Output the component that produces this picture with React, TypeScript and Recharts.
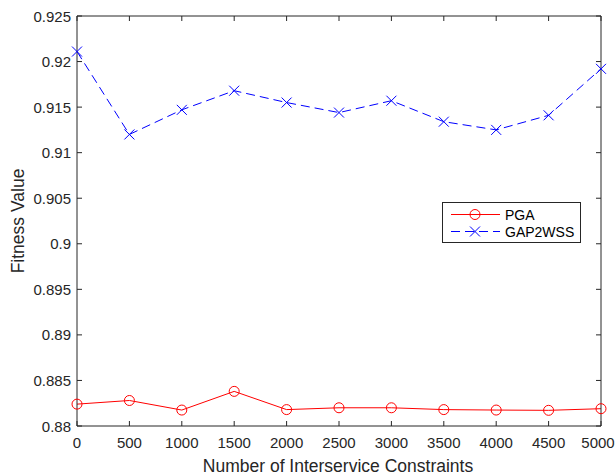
import { LineChart, Line, XAxis, YAxis } from "recharts";

// ── Data ───────────────────────────────────────────────────────────────────
const constraints = [0, 500, 1000, 1500, 2000, 2500, 3000, 3500, 4000, 4500, 5000];
const pgaValues = [0.8824, 0.8828, 0.88175, 0.8838, 0.8818, 0.882, 0.882, 0.8818, 0.88175, 0.88172, 0.8819];
const gap2wssValues = [0.9211, 0.912, 0.9147, 0.9168, 0.9155, 0.9144, 0.9157, 0.9134, 0.9125, 0.9141, 0.9192];
const xTicks = [0, 500, 1000, 1500, 2000, 2500, 3000, 3500, 4000, 4500, 5000];
const yTicks = [0.88, 0.885, 0.89, 0.895, 0.9, 0.905, 0.91, 0.915, 0.92, 0.925];

const data = constraints.map((n, i) => ({ n, pga: pgaValues[i], gap: gap2wssValues[i] }));

const INK = "#262626";
const FONT = "'Liberation Sans', Arial, sans-serif";
const TICK_LEN = 5;

const fmtY = (v: number) => String(Number(v.toFixed(3)));

// ── Tick renderers (MATLAB style: ticks point inward) ──────────────────────
const BottomTick = ({ x, y, payload }: any) => {
  // keep the last label inside the 616px canvas
  const tx = Math.min(x, 598);
  return (
    <g>
      <line x1={x} y1={y} x2={x} y2={y - TICK_LEN} stroke={INK} strokeWidth={1} />
      <text x={tx} y={y + 21.5} textAnchor="middle" fill={INK} fontSize={15} fontFamily={FONT}>
        {payload.value}
      </text>
    </g>
  );
};
const TopTick = ({ x, y }: any) => (
  <line x1={x} y1={y} x2={x} y2={y + TICK_LEN} stroke={INK} strokeWidth={1} />
);
const LeftTick = ({ x, y, payload }: any) => (
  <g>
    <line x1={x} y1={y} x2={x + TICK_LEN} y2={y} stroke={INK} strokeWidth={1} />
    <text x={x - 6} y={y + 5.5} textAnchor="end" fill={INK} fontSize={15} fontFamily={FONT}>
      {fmtY(payload.value)}
    </text>
  </g>
);
const RightTick = ({ x, y }: any) => (
  <line x1={x} y1={y} x2={x - TICK_LEN} y2={y} stroke={INK} strokeWidth={1} />
);

// ── Axis titles ────────────────────────────────────────────────────────────
const XTitle = ({ viewBox }: any) => (
  <text x={viewBox.x + viewBox.width / 2 - 1} y={viewBox.y + 45.5} textAnchor="middle"
    fill={INK} fontSize={17.5} fontFamily={FONT}>
    Number of Interservice Constraints
  </text>
);
const YTitle = ({ viewBox }: any) => {
  const cx = 24;
  const cy = viewBox.y + viewBox.height / 2;
  return (
    <text x={cx} y={cy} textAnchor="middle" transform={`rotate(-90, ${cx}, ${cy})`}
      fill={INK} fontSize={17.5} fontFamily={FONT}>
      Fitness Value
    </text>
  );
};

// ── Markers ────────────────────────────────────────────────────────────────
const CircleDot = (props: any) => {
  const { cx, cy, index } = props;
  return <circle key={`c-${index}`} cx={cx} cy={cy} r={5} fill="none" stroke="#ff0000" strokeWidth={1} />;
};
const CrossDot = (props: any) => {
  const { cx, cy, index } = props;
  const s = 5;
  return (
    <g key={`x-${index}`}>
      <line x1={cx - s} y1={cy - s} x2={cx + s} y2={cy + s} stroke="#0000ff" strokeWidth={1} />
      <line x1={cx - s} y1={cy + s} x2={cx + s} y2={cy - s} stroke="#0000ff" strokeWidth={1} />
    </g>
  );
};

const LegendBox = () => (
  <svg width={139} height={41} style={{ display: "block" }}>
    <rect x={0.5} y={0.5} width={138} height={40} fill="#fff" stroke={INK} strokeWidth={1} />
    <line x1={9} y1={12.5} x2={58} y2={12.5} stroke="#ff0000" strokeWidth={1} />
    <circle cx={33} cy={12.5} r={5} fill="none" stroke="#ff0000" strokeWidth={1} />
    <text x={63} y={17.5} fill="#000" fontSize={14} fontFamily={FONT}>PGA</text>
    <line x1={9} y1={29.5} x2={58} y2={29.5} stroke="#0000ff" strokeWidth={1} strokeDasharray="9 5" />
    <line x1={28} y1={24.5} x2={38} y2={34.5} stroke="#0000ff" strokeWidth={1} />
    <line x1={28} y1={34.5} x2={38} y2={24.5} stroke="#0000ff" strokeWidth={1} />
    <text x={63} y={34.5} fill="#000" fontSize={14} fontFamily={FONT}>GAP2WSS</text>
  </svg>
);

export default function App() {
  return (
    <div style={{ position: "absolute", left: 0, top: 0, width: 616, height: 475, background: "#fff" }}>
      <LineChart width={616} height={475} data={data} margin={{ top: 15, right: 14, bottom: 0, left: 0 }}>
        <XAxis
          xAxisId="bottom"
          dataKey="n"
          type="number"
          domain={[0, 5000]}
          ticks={xTicks}
          height={49}
          tickSize={0}
          tickMargin={0}
          tickLine={false}
          axisLine={{ stroke: INK }}
          tick={<BottomTick />}
          interval={0}
          label={<XTitle />}
        />
        <XAxis
          xAxisId="top"
          orientation="top"
          dataKey="n"
          type="number"
          domain={[0, 5000]}
          ticks={xTicks}
          height={1}
          tickSize={0}
          tickMargin={0}
          tickLine={false}
          axisLine={{ stroke: INK }}
          tick={<TopTick />}
          interval={0}
        />
        <YAxis
          yAxisId="left"
          type="number"
          domain={[0.88, 0.925]}
          ticks={yTicks}
          width={77}
          tickSize={0}
          tickMargin={0}
          tickLine={false}
          axisLine={{ stroke: INK }}
          tick={<LeftTick />}
          interval={0}
          allowDataOverflow
          label={<YTitle />}
        />
        <YAxis
          yAxisId="right"
          orientation="right"
          type="number"
          domain={[0.88, 0.925]}
          ticks={yTicks}
          width={1}
          tickSize={0}
          tickMargin={0}
          tickLine={false}
          axisLine={{ stroke: INK }}
          tick={<RightTick />}
          interval={0}
          allowDataOverflow
        />
        <Line
          xAxisId="bottom"
          yAxisId="left"
          dataKey="pga"
          name="PGA"
          stroke="#ff0000"
          strokeWidth={1}
          dot={CircleDot}
          activeDot={false}
          isAnimationActive={false}
        />
        <Line
          xAxisId="bottom"
          yAxisId="left"
          dataKey="gap"
          name="GAP2WSS"
          stroke="#0000ff"
          strokeWidth={1}
          strokeDasharray="9 5"
          dot={CrossDot}
          activeDot={false}
          isAnimationActive={false}
        />
      </LineChart>
      <div style={{ position: "absolute", left: 442, top: 202 }}>
        <LegendBox />
      </div>
    </div>
  );
}
